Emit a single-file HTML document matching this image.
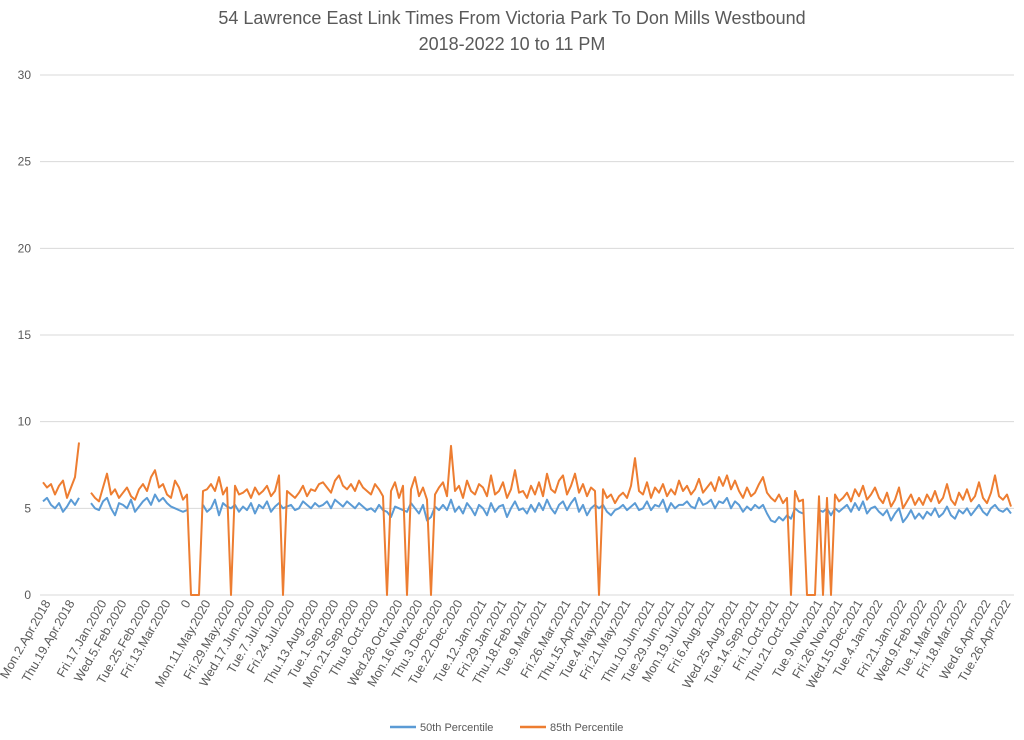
<!DOCTYPE html>
<html><head><meta charset="utf-8"><style>
html,body{margin:0;padding:0;background:#fff;}
svg{display:block;font-family:"Liberation Sans",sans-serif;}
</style></head><body>
<svg id="chart" width="1024" height="740">
<text x="512" y="24" text-anchor="middle" font-size="18" fill="#595959">54 Lawrence East Link Times From Victoria Park To Don Mills Westbound</text>
<text x="512" y="50" text-anchor="middle" font-size="18" fill="#595959">2018-2022 10 to 11 PM</text>
<g id="grid"></g>
<g id="yticks"></g>
<g id="xticks"></g>
<g id="series"></g>
<g>
<line x1="390" y1="727" x2="416" y2="727" stroke="#5b9bd5" stroke-width="2.5"/>
<text x="420" y="731" font-size="11" fill="#595959">50th Percentile</text>
<line x1="520" y1="727" x2="546" y2="727" stroke="#ed7d31" stroke-width="2.5"/>
<text x="550" y="731" font-size="11" fill="#595959">85th Percentile</text>
</g>
</svg>
<script>
const yTicks=[0,5,10,15,20,25,30];
const xLabels=["Mon.2.Apr.2018","Thu.19.Apr.2018","Fri.17.Jan.2020","Wed.5.Feb.2020","Tue.25.Feb.2020","Fri.13.Mar.2020","0","Mon.11.May.2020","Fri.29.May.2020","Wed.17.Jun.2020","Tue.7.Jul.2020","Fri.24.Jul.2020","Thu.13.Aug.2020","Tue.1.Sep.2020","Mon.21.Sep.2020","Thu.8.Oct.2020","Wed.28.Oct.2020","Mon.16.Nov.2020","Thu.3.Dec.2020","Tue.22.Dec.2020","Tue.12.Jan.2021","Fri.29.Jan.2021","Thu.18.Feb.2021","Tue.9.Mar.2021","Fri.26.Mar.2021","Thu.15.Apr.2021","Tue.4.May.2021","Fri.21.May.2021","Thu.10.Jun.2021","Tue.29.Jun.2021","Mon.19.Jul.2021","Fri.6.Aug.2021","Wed.25.Aug.2021","Tue.14.Sep.2021","Fri.1.Oct.2021","Thu.21.Oct.2021","Tue.9.Nov.2021","Fri.26.Nov.2021","Wed.15.Dec.2021","Tue.4.Jan.2022","Fri.21.Jan.2022","Wed.9.Feb.2022","Tue.1.Mar.2022","Fri.18.Mar.2022","Wed.6.Apr.2022","Tue.26.Apr.2022"];
const xLabelIdx=[1,7,15,20,26,31,36,41,47,52,57,62,68,73,78,83,89,94,99,104,110,115,120,125,131,136,141,146,152,157,162,167,173,178,183,188,194,199,204,209,215,220,225,230,236,241];
const p85=[6.5,6.2,6.4,5.8,6.3,6.6,5.6,6.2,6.8,8.8,
null,null,
5.9,5.6,5.4,6.2,7.0,5.8,6.1,5.6,
5.9,6.2,5.7,5.5,6.1,6.4,6.0,6.8,7.2,6.2,
6.4,5.8,5.6,6.6,6.2,5.5,5.8,
0,0,0,
6.0,6.1,6.4,6.0,6.8,5.8,6.2,0,6.3,5.8,
5.9,6.1,5.6,6.2,5.8,6.0,6.3,5.7,6.0,6.9,
0,6.0,5.8,5.6,5.9,6.3,5.7,6.1,6.0,6.4,
6.5,6.2,5.9,6.6,6.9,6.3,6.1,6.4,6.0,6.6,
6.2,6.0,5.8,6.4,6.1,5.7,0,6.0,6.5,5.6,
6.3,0,6.1,6.8,5.7,6.2,5.5,0,5.8,6.2,
6.5,5.7,8.6,6.0,6.3,5.6,6.6,6.0,5.8,6.4,
6.2,5.7,6.9,5.8,6.0,6.5,5.6,6.1,7.2,5.9,
6.0,5.6,6.3,5.8,6.5,5.7,7.0,6.1,5.9,6.6,
6.9,5.8,6.3,7.0,5.9,6.4,5.7,6.2,6.0,0,
6.1,5.6,5.8,5.3,5.7,5.9,5.6,6.3,7.9,6.0,
5.8,6.5,5.6,6.2,5.9,6.4,5.7,6.1,5.8,6.6,
6.0,6.3,5.8,6.1,6.7,5.9,6.2,6.5,6.0,6.8,
6.3,6.9,6.1,6.6,6.0,5.6,6.2,5.7,5.9,6.4,
6.8,5.9,5.6,5.4,5.8,5.3,5.6,0,6.0,5.4,
5.5,0,0,0,5.7,0,5.6,0,5.8,5.4,
5.6,5.9,5.4,6.1,5.7,6.3,5.5,5.8,6.2,5.6,
5.3,5.9,5.1,5.5,6.2,5.0,5.4,5.8,5.2,5.6,
5.2,5.8,5.4,6.0,5.3,5.6,6.4,5.5,5.2,5.9,
5.5,6.1,5.4,5.7,6.5,5.6,5.3,5.9,6.9,5.7,5.5,5.8,5.1];
const p50=[5.4,5.6,5.2,5.0,5.3,4.8,5.1,5.5,5.2,5.6,
null,null,
5.3,5.0,4.9,5.4,5.6,5.0,4.6,5.3,
5.2,5.0,5.5,4.8,5.1,5.4,5.6,5.2,5.8,5.4,
5.6,5.3,5.1,5.0,4.9,4.8,4.9,
null,null,null,
5.2,4.8,5.0,5.5,4.6,5.3,5.1,5.0,5.2,4.8,
5.1,4.9,5.3,4.7,5.2,5.0,5.4,4.8,5.1,5.3,
5.0,5.1,5.2,4.9,5.0,5.4,5.2,5.0,5.3,5.1,
5.2,5.4,5.0,5.5,5.3,5.1,5.4,5.2,5.0,5.3,
5.1,4.9,5.0,4.8,5.2,4.9,4.8,4.5,5.1,5.0,
4.9,4.8,5.3,5.0,4.7,5.2,4.3,4.5,5.1,4.9,
5.2,4.9,5.5,4.8,5.1,4.7,5.3,5.0,4.6,5.2,
5.0,4.6,5.3,4.8,5.1,5.2,4.5,5.0,5.4,4.9,
5.0,4.7,5.2,4.8,5.3,4.9,5.5,5.0,4.7,5.2,
5.4,4.9,5.3,5.6,4.8,5.2,4.6,5.0,5.2,5.0,
5.2,4.8,4.6,4.9,5.0,5.2,4.9,5.1,5.3,4.9,
5.0,5.4,4.9,5.2,5.1,5.5,4.8,5.3,5.0,5.2,
5.2,5.4,5.1,5.0,5.6,5.2,5.3,5.5,5.0,5.4,
5.3,5.6,5.0,5.4,5.2,4.8,5.1,4.9,5.2,5.0,
5.2,4.7,4.3,4.2,4.5,4.3,4.6,4.4,5.0,4.8,
4.7,null,null,null,4.9,4.8,5.0,4.6,5.0,4.8,
5.0,5.2,4.8,5.3,4.9,5.4,4.7,5.0,5.1,4.8,
4.6,4.9,4.3,4.7,5.0,4.2,4.5,4.9,4.4,4.7,
4.4,4.8,4.6,5.0,4.5,4.7,5.1,4.6,4.4,4.9,
4.7,5.0,4.6,4.9,5.2,4.8,4.6,5.0,5.2,4.9,4.8,5.0,4.7];

const NS="http://www.w3.org/2000/svg";
const X0=43,X1=1011,Y0=595,Y30=75,GL=40,GR=1014;
const N=p85.length;
function xs(i){return X0+i*(X1-X0)/(N-1);}
function ys(v){return Y0-v*(Y0-Y30)/30;}
const grid=document.getElementById('grid'),yt=document.getElementById('yticks'),xt=document.getElementById('xticks'),ser=document.getElementById('series');
yTicks.forEach(t=>{
  const l=document.createElementNS(NS,'line');
  l.setAttribute('x1',GL);l.setAttribute('x2',GR);l.setAttribute('y1',ys(t));l.setAttribute('y2',ys(t));
  l.setAttribute('stroke','#d9d9d9');l.setAttribute('stroke-width','1');
  
  
  grid.appendChild(l);
  const tx=document.createElementNS(NS,'text');
  tx.setAttribute('x',31);tx.setAttribute('y',ys(t)+4);tx.setAttribute('text-anchor','end');
  tx.setAttribute('font-size','12');tx.setAttribute('fill','#595959');tx.textContent=t;
  
  
  yt.appendChild(tx);
});
xLabels.forEach((lab,k)=>{
  const x=xs(xLabelIdx[k])+4,y=603;
  const tx=document.createElementNS(NS,'text');
  tx.setAttribute('x',x);tx.setAttribute('y',y);tx.setAttribute('text-anchor','end');
  tx.setAttribute('font-size','12.5');tx.setAttribute('fill','#595959');
  tx.setAttribute('transform','rotate(-60 '+x+' '+y+')');
  tx.textContent=lab;
  
  
  xt.appendChild(tx);
});
function draw(arr,color,name){
  let d='',pen=false;
  arr.forEach((v,i)=>{
    if(v===null){pen=false;return;}
    d+=(pen?'L':'M')+xs(i).toFixed(1)+' '+ys(v).toFixed(1)+' ';pen=true;
  });
  const p=document.createElementNS(NS,'path');
  p.setAttribute('d',d);p.setAttribute('fill','none');p.setAttribute('stroke',color);
  p.setAttribute('stroke-width','2');p.setAttribute('stroke-linejoin','round');
  
  
  ser.appendChild(p);
}
draw(p50,'#5b9bd5','line-50th-percentile');
draw(p85,'#ed7d31','line-85th-percentile');
</script>
</body></html>
